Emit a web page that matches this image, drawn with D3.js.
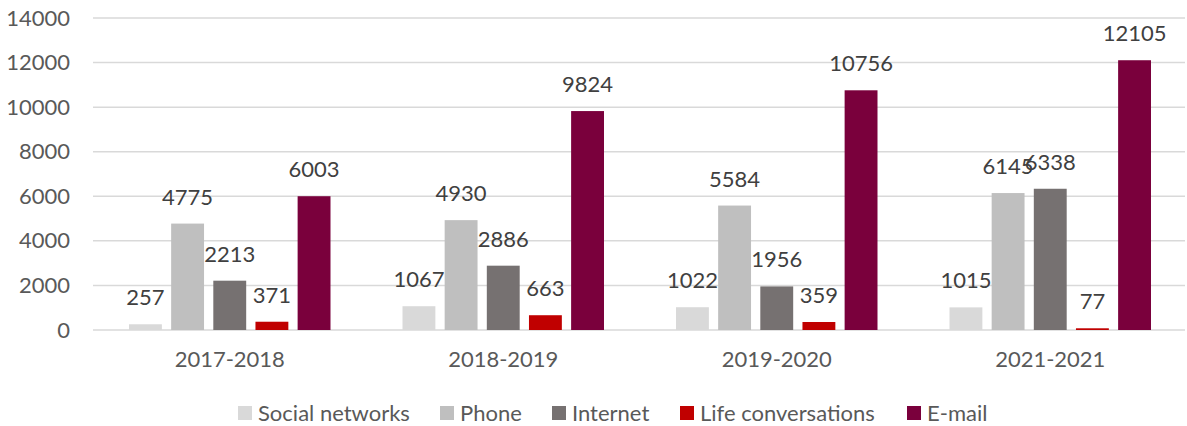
<!DOCTYPE html>
<html>
<head>
<meta charset="utf-8">
<script src="https://cdn.jsdelivr.net/npm/d3@7"></script>
<style>
  html, body { margin: 0; padding: 0; background: #fff; }
  svg text { font-family: Lato, "Open Sans", sans-serif; fill: #595959; }
</style>
</head>
<body>
<svg id="chart" width="1187" height="426"></svg>
<script>
// Contacts by channel per academic year
const years = ["2017-2018", "2018-2019", "2019-2020", "2021-2021"];
const seriesNames = ["Social networks", "Phone", "Internet", "Life conversations", "E-mail"];
const seriesColors = ["#d9d9d9", "#bfbfbf", "#767171", "#c00000", "#7a003c"];
const socialNetworks = [257, 1067, 1022, 1015];
const phone = [4775, 4930, 5584, 6145];
const internet = [2213, 2886, 1956, 6338];
const lifeConversations = [371, 663, 359, 77];
const email = [6003, 9824, 10756, 12105];
const yTicks = [0, 2000, 4000, 6000, 8000, 10000, 12000, 14000];

const seriesValues = [socialNetworks, phone, internet, lifeConversations, email];

const svg = d3.select("#chart");
const margin = { left: 93, right: 0, top: 18, bottom: 96 };
const W = 1187, H = 426;
const fontSize = "22px";

const x0 = d3.scaleBand().domain(years).range([margin.left, W - margin.right]).paddingInner(0).paddingOuter(0);
const x1 = d3.scaleBand().domain(seriesNames).range([36, x0.bandwidth() - 36]).paddingInner(0.22).paddingOuter(0);
const y = d3.scaleLinear().domain([0, 14000]).range([H - margin.bottom, margin.top]);

// Gridlines
svg.append("g")
  .selectAll("line")
  .data(yTicks)
  .join("line")
  .attr("x1", margin.left)
  .attr("x2", W - 2)
  .attr("y1", d => y(d))
  .attr("y2", d => y(d))
  .attr("stroke", "#d9d9d9")
  .attr("stroke-width", 1.5);

// Y axis labels
const yAxis = d3.axisLeft(y).tickValues(yTicks).tickSize(0).tickPadding(0).tickFormat(d3.format("d"));
const yG = svg.append("g").attr("transform", `translate(70,0)`).call(yAxis);
yG.select(".domain").remove();
yG.selectAll("text").style("font-size", fontSize).style("fill", "#595959").style("font-family", "Lato, sans-serif");

// X axis labels
const xAxis = d3.axisBottom(x0).tickSize(0).tickPadding(21);
const xG = svg.append("g").attr("transform", `translate(0,${y(0)})`).call(xAxis);
xG.select(".domain").remove();
xG.selectAll("text").style("font-size", fontSize).style("fill", "#595959").style("font-family", "Lato, sans-serif");

// Bars and value labels
const rows = [];
years.forEach((yr, i) => {
  seriesNames.forEach((s, j) => rows.push({ yr, s, j, v: seriesValues[j][i] }));
});

const groups = svg.append("g");
groups.selectAll("rect")
  .data(rows)
  .join("rect")
  .attr("x", d => x0(d.yr) + x1(d.s))
  .attr("width", x1.bandwidth())
  .attr("y", d => y(d.v))
  .attr("height", d => y(0) - y(d.v))
  .attr("fill", d => seriesColors[d.j]);

groups.selectAll("text")
  .data(rows)
  .join("text")
  .attr("x", d => x0(d.yr) + x1(d.s) + x1.bandwidth() / 2)
  .attr("y", d => y(d.v) - 19)
  .attr("text-anchor", "middle")
  .style("font-size", fontSize)
  .style("fill", "#404040")
  .text(d => d.v);

// Legend
const legendX = [238, 440, 552, 680, 907];
const lg = svg.append("g");
seriesNames.forEach((name, j) => {
  lg.append("rect").attr("x", legendX[j]).attr("y", 406).attr("width", 14).attr("height", 14).attr("fill", seriesColors[j]);
  lg.append("text").attr("x", legendX[j] + 20).attr("y", 421).style("font-size", fontSize).text(name);
});
</script>
</body>
</html>
